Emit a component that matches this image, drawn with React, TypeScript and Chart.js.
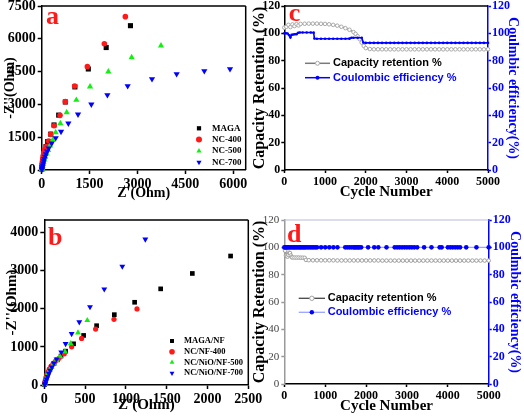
import React, { useEffect, useRef } from 'react';
import { Chart, registerables } from 'chart.js';

Chart.register(...registerables);

const SERIF = "'Liberation Serif', 'Times New Roman', serif";
const SANS = "'Liberation Sans', Arial, sans-serif";
const BLUE = '#0000ff';
const RED = '#ff1a1a';
const GREEN = '#14ee14';
const BLACK = '#000000';

// ---------- Panel a: Nyquist plots ----------
const aLabels = ['MAGA', 'NC-400', 'NC-500', 'NC-700'];
const aMagaX = [4, 9, 16, 26, 38, 53, 72, 98, 135, 188, 282, 386, 532, 740, 1040, 1460, 2020, 2780];
const aMagaY = [40, 120, 220, 330, 450, 580, 730, 890, 1070, 1300, 1640, 2060, 2510, 3110, 3800, 4620, 5600, 6600];
const aNc400X = [3, 7, 13, 21, 32, 46, 64, 90, 146, 219, 282, 386, 574, 741, 1033, 1430, 1962, 2620];
const aNc400Y = [50, 140, 250, 370, 500, 640, 790, 930, 1067, 1326, 1631, 2027, 2500, 3125, 3841, 4726, 5777, 7012];
const aNc500X = [8, 15, 25, 38, 55, 80, 110, 150, 200, 261, 344, 438, 585, 783, 1085, 1514, 2088, 2818, 3737];
const aNc500Y = [30, 90, 170, 260, 360, 470, 600, 740, 900, 1113, 1372, 1722, 2134, 2637, 3201, 3811, 4497, 5152, 5686];
const aNc700X = [6, 12, 20, 32, 46, 62, 82, 106, 135, 170, 219, 313, 438, 605, 835, 1138, 1555, 2057, 2693, 3455, 4227, 5094, 5898];
const aNc700Y = [20, 70, 140, 220, 310, 410, 510, 620, 730, 860, 991, 1220, 1463, 1753, 2134, 2546, 3003, 3430, 3841, 4161, 4390, 4527, 4619];
const aXTicks = [0, 1500, 3000, 4500, 6000];
const aYTicks = [0, 1500, 3000, 4500, 6000, 7500];

// ---------- Panel b: Nyquist plots on NF ----------
const bLabels = ['MAGA/NF', 'NC/NF-400', 'NC/NiO/NF-500', 'NC/NiO/NF-700'];
const bMagaX = [3, 8, 15, 24, 35, 50, 68, 90, 120, 160, 205, 261, 359, 482, 641, 858, 1107, 1426, 1814, 2283];
const bMagaY = [10, 50, 110, 180, 250, 330, 410, 490, 570, 660, 760, 888, 1081, 1301, 1556, 1846, 2171, 2523, 2927, 3385];
const bNc400X = [3, 7, 13, 21, 31, 44, 60, 80, 105, 135, 180, 245, 335, 457, 629, 854, 1136];
const bNc400Y = [20, 70, 130, 200, 270, 340, 410, 480, 550, 620, 700, 818, 1002, 1222, 1468, 1723, 1996];
const bNc500X = [4, 9, 16, 25, 36, 50, 68, 90, 118, 150, 195, 253, 323, 413, 527];
const bNc500Y = [15, 60, 120, 190, 260, 330, 400, 480, 560, 650, 750, 879, 1090, 1371, 1697];
const bNc700X = [5, 10, 18, 28, 40, 55, 72, 92, 118, 150, 208, 261, 335, 429, 560, 735, 956, 1238];
const bNc700Y = [10, 40, 90, 150, 220, 300, 380, 470, 570, 680, 862, 1081, 1345, 1653, 2048, 2514, 3112, 3824];
const bXTicks = [0, 500, 1000, 1500, 2000, 2500];
const bYTicks = [0, 1000, 2000, 3000, 4000];

// ---------- Panel c: cycling stability ----------
const cLabels = ['Capacity retention %', 'Coulombic efficiency %'];
const cRetCycles = [0, 50, 100, 150, 200, 250, 300, 350, 400, 500, 600, 700, 800, 900, 1000, 1100, 1200, 1300, 1400, 1500, 1600, 1700, 1750, 1800, 1850, 1900, 1950, 2000, 2100, 2200, 2300, 2400, 2500, 2600, 2700, 2800, 2900, 3000, 3100, 3200, 3300, 3400, 3500, 3600, 3700, 3800, 3900, 4000, 4100, 4200, 4300, 4400, 4500, 4600, 4700, 4800, 4900, 5000];
const cRetention = [104.2, 104.8, 106.2, 104.6, 106.5, 105.3, 106.7, 105.8, 106.9, 107.0, 107.1, 107.1, 107.1, 107.0, 106.9, 106.6, 106.2, 105.6, 104.8, 103.8, 102.6, 100.9, 99.6, 97.9, 95.7, 93.2, 90.8, 89.2, 88.5, 88.3, 88.3, 88.3, 88.3, 88.3, 88.3, 88.3, 88.3, 88.3, 88.3, 88.3, 88.3, 88.3, 88.3, 88.3, 88.3, 88.3, 88.3, 88.3, 88.3, 88.3, 88.3, 88.3, 88.3, 88.3, 88.3, 88.3, 88.3, 88.3];
const cCeCycles = [0, 40, 80, 120, 150, 180, 220, 260, 300, 340, 380, 450, 550, 650, 720, 740, 800, 900, 1000, 1100, 1200, 1300, 1400, 1500, 1600, 1650, 1700, 1800, 1900, 1940, 2000, 2100, 2200, 2300, 2400, 2500, 2600, 2700, 2800, 2900, 3000, 3100, 3200, 3300, 3400, 3500, 3600, 3700, 3800, 3900, 4000, 4100, 4200, 4300, 4400, 4500, 4600, 4700, 4800, 4900, 5000];
const cCoulomb = [100.0, 100.1, 99.9, 98.6, 97.0, 98.9, 99.1, 99.3, 99.4, 100.4, 100.6, 100.6, 100.6, 100.6, 100.5, 96.2, 96.0, 96.0, 96.0, 96.0, 96.0, 96.0, 96.0, 96.0, 96.1, 96.8, 96.8, 96.8, 96.8, 93.3, 93.0, 93.0, 93.0, 93.0, 93.0, 93.0, 93.0, 93.0, 93.0, 93.0, 93.0, 93.0, 93.0, 93.0, 93.0, 93.0, 93.0, 93.0, 93.0, 93.0, 93.0, 93.0, 93.0, 93.0, 93.0, 93.0, 93.0, 93.0, 93.0, 93.0, 93.0];

// ---------- Panel d: cycling stability ----------
const dLabels = ['Capacity retention %', 'Coulombic efficiency %'];
const dRetCycles = [0, 20, 40, 60, 80, 100, 120, 140, 160, 180, 200, 250, 300, 350, 400, 450, 500, 530, 600, 700, 800, 900, 1000, 1100, 1200, 1300, 1400, 1500, 1600, 1700, 1800, 1900, 2000, 2100, 2200, 2300, 2400, 2500, 2600, 2700, 2800, 2900, 3000, 3100, 3200, 3300, 3400, 3500, 3600, 3700, 3800, 3900, 4000, 4100, 4200, 4300, 4400, 4500, 4600, 4700, 4800, 4900, 5000];
const dRetention = [99.5, 97.5, 94.2, 93.6, 93.2, 94.5, 96.0, 95.8, 94.0, 92.8, 92.6, 92.5, 92.5, 92.5, 92.4, 92.4, 92.3, 90.8, 90.6, 90.5, 90.5, 90.5, 90.5, 90.5, 90.5, 90.4, 90.4, 90.4, 90.4, 90.4, 90.4, 90.4, 90.4, 90.4, 90.4, 90.4, 90.3, 90.3, 90.3, 90.3, 90.3, 90.3, 90.3, 90.3, 90.3, 90.3, 90.3, 90.3, 90.3, 90.3, 90.3, 90.3, 90.3, 90.3, 90.3, 90.3, 90.3, 90.3, 90.3, 90.3, 90.3, 90.3, 90.3];
const dCeCycles = [0, 25, 50, 75, 100, 130, 160, 190, 220, 250, 280, 310, 340, 370, 400, 430, 460, 490, 520, 560, 600, 640, 680, 720, 760, 800, 900, 1000, 1100, 1200, 1300, 1490, 1540, 1590, 1640, 1690, 1720, 1750, 1780, 1810, 1840, 1880, 2050, 2200, 2300, 2500, 2700, 2760, 2820, 2880, 2940, 3000, 3060, 3120, 3180, 3250, 3420, 3600, 3800, 3850, 4000, 4060, 4120, 4180, 4240, 4300, 4450, 4700, 5000];
const dCoulomb = [100, 100, 100, 100, 100, 100, 100, 100, 100, 100, 100, 100, 100, 100, 100, 100, 100, 100, 100, 100, 100, 100, 100, 100, 100, 100, 100, 100, 100, 100, 100, 100, 100, 100, 100, 100, 100, 100, 100, 100, 100, 100, 100, 100, 100, 100, 100, 100, 100, 100, 100, 100, 100, 100, 100, 100, 100, 100, 100, 100, 100, 100, 100, 100, 100, 100, 100, 100, 100];
const cycleTicks = [0, 1000, 2000, 3000, 4000, 5000];
const pctTicks = [0, 20, 40, 60, 80, 100, 120];

const pts = (xs: number[], ys: number[]) => xs.map((x, i) => ({ x, y: ys[i] }));

// ---------- helpers ----------
type AxisOpts = {
  position: 'left' | 'right' | 'bottom';
  min: number;
  max: number;
  ticks: number[];
  size: number;
  tickFont: any;
  tickColor: string;
  lineColor: string;
  lineWidth?: number;
  tickLen?: number;
  tickPad?: number;
  title?: string;
  titleFont?: any;
  titleColor?: string;
  titlePad?: any;
};

function axis(o: AxisOpts) {
  const horizontal = o.position === 'bottom';
  return {
    type: 'linear',
    position: o.position,
    min: o.min,
    max: o.max,
    bounds: 'data',
    afterBuildTicks: (s: any) => {
      s.ticks = o.ticks.map((v) => ({ value: v }));
    },
    afterFit: (s: any) => {
      if (horizontal) s.height = o.size;
      else s.width = o.size;
      s.paddingTop = 0;
      s.paddingBottom = 0;
      s.paddingLeft = 0;
      s.paddingRight = 0;
    },
    grid: {
      display: true,
      drawOnChartArea: false,
      drawTicks: true,
      tickLength: o.tickLen ?? 4,
      tickWidth: o.lineWidth ?? 1.5,
      tickColor: o.lineColor,
    },
    border: { display: true, color: o.lineColor, width: o.lineWidth ?? 1.5 },
    ticks: {
      font: o.tickFont,
      color: o.tickColor,
      padding: o.tickPad ?? 2,
      maxRotation: 0,
      minRotation: 0,
      autoSkip: false,
      callback: (v: any) => String(v),
    },
    title: o.title
      ? { display: true, text: o.title, font: o.titleFont, color: o.titleColor ?? BLACK, padding: o.titlePad }
      : { display: false },
  };
}

function drawMarker(ctx: CanvasRenderingContext2D, style: string, rot: number, x: number, y: number, r: number) {
  ctx.beginPath();
  if (style === 'rect') {
    const s = Math.SQRT1_2 * r;
    ctx.rect(x - s, y - s, 2 * s, 2 * s);
  } else if (style === 'triangle') {
    let rad = (rot * Math.PI) / 180;
    for (let k = 0; k < 3; k++) {
      const px = x + Math.sin(rad) * r;
      const py = y - Math.cos(rad) * r;
      if (k === 0) ctx.moveTo(px, py);
      else ctx.lineTo(px, py);
      rad += (2 * Math.PI) / 3;
    }
    ctx.closePath();
  } else {
    ctx.arc(x, y, r, 0, Math.PI * 2);
  }
}

const framePlugin = {
  id: 'frame',
  afterDatasetsDraw(chart: any, _a: any, o: any) {
    const { ctx, chartArea } = chart;
    const { left, right, top, bottom } = chartArea;
    ctx.save();
    ctx.lineWidth = o.width ?? 1.5;
    if (o.top) {
      ctx.strokeStyle = o.top;
      ctx.beginPath();
      ctx.moveTo(left, top);
      ctx.lineTo(right, top);
      ctx.stroke();
    }
    if (o.right) {
      ctx.strokeStyle = o.right;
      ctx.beginPath();
      ctx.moveTo(right, top);
      ctx.lineTo(right, bottom);
      ctx.stroke();
    }
    ctx.restore();
  },
};

const legendPlugin = {
  id: 'markLegend',
  afterDraw(chart: any, _a: any, o: any) {
    const ctx: CanvasRenderingContext2D = chart.ctx;
    ctx.save();
    ctx.font = o.font;
    ctx.textBaseline = 'middle';
    ctx.textAlign = 'left';
    chart.data.datasets.forEach((ds: any, i: number) => {
      const y = o.y0 + i * o.dy;
      let mx = o.x;
      if (o.lineX0 !== undefined) {
        ctx.strokeStyle = o.lineColors?.[i] ?? ds.borderColor;
        ctx.lineWidth = o.lineWidth ?? 1.5;
        ctx.beginPath();
        ctx.moveTo(o.lineX0, y);
        ctx.lineTo(o.lineX1, y);
        ctx.stroke();
        mx = (o.lineX0 + o.lineX1) / 2;
      }
      drawMarker(ctx, ds.pointStyle || 'circle', ds.pointRotation || 0, mx, y, o.r ?? ds.pointRadius);
      ctx.fillStyle = ds.pointBackgroundColor;
      ctx.fill();
      if (ds.pointBorderWidth) {
        ctx.strokeStyle = ds.pointBorderColor;
        ctx.lineWidth = ds.pointBorderWidth;
        ctx.stroke();
      }
      ctx.fillStyle = o.textColors?.[i] ?? BLACK;
      ctx.fillText(ds.label, o.textX, y);
    });
    ctx.restore();
  },
};

const tagPlugin = {
  id: 'panelTag',
  afterDraw(chart: any, _a: any, o: any) {
    const ctx: CanvasRenderingContext2D = chart.ctx;
    ctx.save();
    ctx.font = o.font;
    ctx.fillStyle = o.color;
    ctx.textAlign = 'left';
    ctx.textBaseline = 'alphabetic';
    ctx.fillText(o.text, o.x, o.y);
    ctx.restore();
  },
};

const tickFontA = { family: SERIF, size: 14, weight: 'bold' };
const titleFont14 = { family: SERIF, size: 14, weight: 'bold' };
const tagFont = `bold 26px ${SERIF}`;

function scatterSet(label: string, xs: number[], ys: number[], style: string, color: string, r: number, rot: number, order: number) {
  return {
    label,
    data: pts(xs, ys),
    pointStyle: style,
    pointRotation: rot,
    pointRadius: r,
    pointBackgroundColor: color,
    pointBorderColor: color,
    pointBorderWidth: 0,
    backgroundColor: color,
    borderColor: color,
    showLine: false,
    clip: false,
    order,
  };
}

function baseOptions() {
  return {
    responsive: false,
    animation: false,
    devicePixelRatio: 1,
    events: [],
  };
}

function makeA() {
  return {
    type: 'scatter',
    data: {
      datasets: [
        scatterSet(aLabels[0], aMagaX, aMagaY, 'rect', BLACK, 3.6, 0, 4),
        scatterSet(aLabels[1], aNc400X, aNc400Y, 'circle', RED, 2.8, 0, 3),
        scatterSet(aLabels[2], aNc500X, aNc500Y, 'triangle', GREEN, 3.6, 0, 2),
        scatterSet(aLabels[3], aNc700X, aNc700Y, 'triangle', BLUE, 3.6, 180, 1),
      ],
    },
    options: {
      ...baseOptions(),
      layout: { padding: { left: 0, top: 6, right: 16.3, bottom: 0 } },
      scales: {
        x: axis({
          position: 'bottom', min: 0, max: 6390, ticks: aXTicks, size: 35,
          tickFont: tickFontA, tickColor: BLACK, lineColor: BLACK,
          title: "Z'(Ohm)", titleFont: titleFont14, titlePad: { top: 0, bottom: 3.6 },
        }),
        y: axis({
          position: 'left', min: 0, max: 7500, ticks: aYTicks, size: 41.7,
          tickFont: tickFontA, tickColor: BLACK, lineColor: BLACK,
          title: "-Z''(Ohm)", titleFont: titleFont14, titlePad: { top: 1.6, bottom: 0 },
        }),
      },
      plugins: {
        legend: { display: false },
        tooltip: { enabled: false },
        frame: { top: BLACK, right: BLACK, width: 1.5 },
        markLegend: { x: 199, textX: 212, y0: 128.3, dy: 11.3, font: `bold 9px ${SERIF}`, r: 3 },
        panelTag: { text: 'a', x: 46, y: 23.5, font: tagFont, color: RED },
      },
    },
    plugins: [framePlugin, legendPlugin, tagPlugin],
  };
}

function makeB() {
  return {
    type: 'scatter',
    data: {
      datasets: [
        scatterSet(bLabels[0], bMagaX, bMagaY, 'rect', BLACK, 3.3, 0, 4),
        scatterSet(bLabels[1], bNc400X, bNc400Y, 'circle', RED, 2.6, 0, 3),
        scatterSet(bLabels[2], bNc500X, bNc500Y, 'triangle', GREEN, 3.4, 0, 2),
        scatterSet(bLabels[3], bNc700X, bNc700Y, 'triangle', BLUE, 3.4, 180, 1),
      ],
    },
    options: {
      ...baseOptions(),
      layout: { padding: { left: 0, top: 15, right: 13.7, bottom: 0 } },
      scales: {
        x: axis({
          position: 'bottom', min: 0, max: 2500, ticks: bXTicks, size: 33,
          tickFont: { family: SERIF, size: 14, weight: 'bold' }, tickColor: BLACK, lineColor: BLACK,
          title: "Z'(Ohm)", titleFont: { family: SERIF, size: 15, weight: 'bold' }, titlePad: { top: 0, bottom: 4 },
        }),
        y: axis({
          position: 'left', min: 0, max: 4330, ticks: bYTicks, size: 44.3,
          tickFont: { family: SERIF, size: 14, weight: 'bold' }, tickColor: BLACK, lineColor: BLACK,
          title: "-Z''(Ohm)", titleFont: { family: SERIF, size: 15, weight: 'bold' }, titlePad: { top: 3.5, bottom: 0 },
        }),
      },
      plugins: {
        legend: { display: false },
        tooltip: { enabled: false },
        frame: { top: BLACK, right: BLACK, width: 1.5 },
        markLegend: { x: 172, textX: 184, y0: 136, dy: 10.7, font: `bold 8.5px ${SERIF}`, r: 2.8 },
        panelTag: { text: 'b', x: 48, y: 40, font: tagFont, color: RED },
      },
    },
    plugins: [framePlugin, legendPlugin, tagPlugin],
  };
}

function lineSet(label: string, xs: number[], ys: number[], o: any) {
  return {
    label,
    data: pts(xs, ys),
    showLine: true,
    clip: false,
    pointStyle: 'circle',
    ...o,
  };
}

function makeC() {
  const tickFont = { family: SERIF, size: 12, weight: 'bold' };
  return {
    type: 'scatter',
    data: {
      datasets: [
        lineSet(cLabels[0], cRetCycles, cRetention, {
          borderColor: '#7a7a7a', borderWidth: 1.3, pointRadius: 1.8,
          pointBackgroundColor: '#ffffff', pointBorderColor: '#a8a8a8', pointBorderWidth: 1,
          yAxisID: 'y', order: 2,
        }),
        lineSet(cLabels[1], cCeCycles, cCoulomb, {
          borderColor: BLUE, borderWidth: 1.6, pointRadius: 1.3,
          pointBackgroundColor: BLUE, pointBorderColor: BLUE, pointBorderWidth: 0,
          yAxisID: 'y2', order: 1,
        }),
      ],
    },
    options: {
      ...baseOptions(),
      layout: { padding: { left: 0, top: 6, right: 0, bottom: 0 } },
      scales: {
        x: axis({
          position: 'bottom', min: 0, max: 5000, ticks: cycleTicks, size: 35,
          tickFont, tickColor: BLACK, lineColor: BLACK, tickLen: 3,
          title: 'Cycle Number', titleFont: { family: SERIF, size: 15, weight: 'bold' }, titlePad: { top: 0, bottom: 3.5 },
        }),
        y: axis({
          position: 'left', min: 0, max: 120, ticks: pctTicks, size: 36.3,
          tickFont, tickColor: BLACK, lineColor: BLACK, tickLen: 3, tickPad: 1,
          title: 'Capacity Retention (%)', titleFont: { family: SERIF, size: 16, weight: 'bold' }, titlePad: { top: 2.4, bottom: 0 },
        }),
        y2: axis({
          position: 'right', min: 0, max: 120, ticks: pctTicks, size: 36,
          tickFont, tickColor: BLUE, lineColor: BLUE, tickLen: 3, tickPad: 1,
          title: 'Coulmbic efficiency(%)', titleFont: { family: SERIF, size: 14, weight: 'bold' }, titleColor: BLUE,
          titlePad: { top: 2.6, bottom: 0 },
        }),
      },
      plugins: {
        legend: { display: false },
        tooltip: { enabled: false },
        frame: { top: BLACK, width: 1.5 },
        markLegend: {
          lineX0: 57, lineX1: 82, textX: 85, y0: 63.3, dy: 14.4,
          font: `bold 11px ${SANS}`, textColors: [BLACK, BLUE], lineColors: ['#7a7a7a', BLUE], r: 2,
        },
        panelTag: { text: 'c', x: 40.7, y: 20.7, font: tagFont, color: RED },
      },
    },
    plugins: [framePlugin, legendPlugin, tagPlugin],
  };
}

function makeD() {
  const tickFont = { family: SERIF, size: 12, weight: 'bold' };
  return {
    type: 'scatter',
    data: {
      datasets: [
        lineSet(dLabels[0], dRetCycles, dRetention, {
          borderColor: '#555555', borderWidth: 1.1, pointRadius: 1.8,
          pointBackgroundColor: '#ffffff', pointBorderColor: '#a0a0a0', pointBorderWidth: 1,
          yAxisID: 'y', order: 2,
        }),
        lineSet(dLabels[1], dCeCycles, dCoulomb, {
          borderColor: '#9aa4ff', borderWidth: 1.2, pointRadius: 2.3,
          pointBackgroundColor: BLUE, pointBorderColor: BLUE, pointBorderWidth: 0,
          yAxisID: 'y2', order: 1,
        }),
      ],
    },
    options: {
      ...baseOptions(),
      layout: { padding: { left: 0, top: 15, right: 0, bottom: 0 } },
      scales: {
        x: axis({
          position: 'bottom', min: 0, max: 5000, ticks: cycleTicks, size: 34,
          tickFont, tickColor: BLACK, lineColor: BLACK, tickLen: 3,
          title: 'Cycle Number', titleFont: { family: SERIF, size: 15, weight: 'bold' }, titlePad: { top: 0, bottom: 3 },
        }),
        y: axis({
          position: 'left', min: 0, max: 120, ticks: pctTicks, size: 36.3,
          tickFont: { family: SERIF, size: 11, weight: 'normal' }, tickColor: '#444444', lineColor: '#9a9a9a', tickLen: 3, tickPad: 2,
          title: 'Capacity Retention (%)', titleFont: { family: SERIF, size: 16, weight: 'bold' }, titlePad: { top: 2.4, bottom: 0 },
        }),
        y2: axis({
          position: 'right', min: 0, max: 120, ticks: pctTicks, size: 35.3,
          tickFont, tickColor: BLUE, lineColor: BLUE, tickLen: 3, tickPad: 1,
          title: 'Coulmbic efficiency(%)', titleFont: { family: SERIF, size: 14, weight: 'bold' }, titleColor: BLUE,
          titlePad: { top: 0.6, bottom: 0 },
        }),
      },
      plugins: {
        legend: { display: false },
        tooltip: { enabled: false },
        frame: { top: '#b8bce0', width: 1.2 },
        markLegend: {
          lineX0: 50.7, lineX1: 77, textX: 79.7, y0: 93.3, dy: 14,
          font: `bold 11px ${SANS}`, textColors: [BLACK, BLUE], lineColors: ['#444444', '#9aa4ff'], lineWidth: 1.3, r: 2.2,
        },
        panelTag: { text: 'd', x: 39, y: 36.7, font: tagFont, color: RED },
      },
    },
    plugins: [framePlugin, legendPlugin, tagPlugin],
  };
}

function ChartCanvas({ make, left, top, width, height }: { make: () => any; left: number; top: number; width: number; height: number }) {
  const ref = useRef<HTMLCanvasElement>(null);
  useEffect(() => {
    const chart = new Chart(ref.current as HTMLCanvasElement, make());
    return () => chart.destroy();
  }, [make]);
  return (
    <canvas
      ref={ref}
      width={width}
      height={height}
      style={{ position: 'absolute', left, top, width, height, display: 'block' }}
    />
  );
}

export default function App() {
  return (
    <div style={{ position: 'absolute', left: 0, top: 0, width: 524, height: 418, background: '#ffffff', overflow: 'hidden' }}>
      <ChartCanvas make={makeA} left={0} top={0} width={262} height={205} />
      <ChartCanvas make={makeB} left={0} top={205} width={262} height={213} />
      <ChartCanvas make={makeC} left={248} top={0} width={276} height={205} />
      <ChartCanvas make={makeD} left={248} top={205} width={276} height={213} />
    </div>
  );
}
